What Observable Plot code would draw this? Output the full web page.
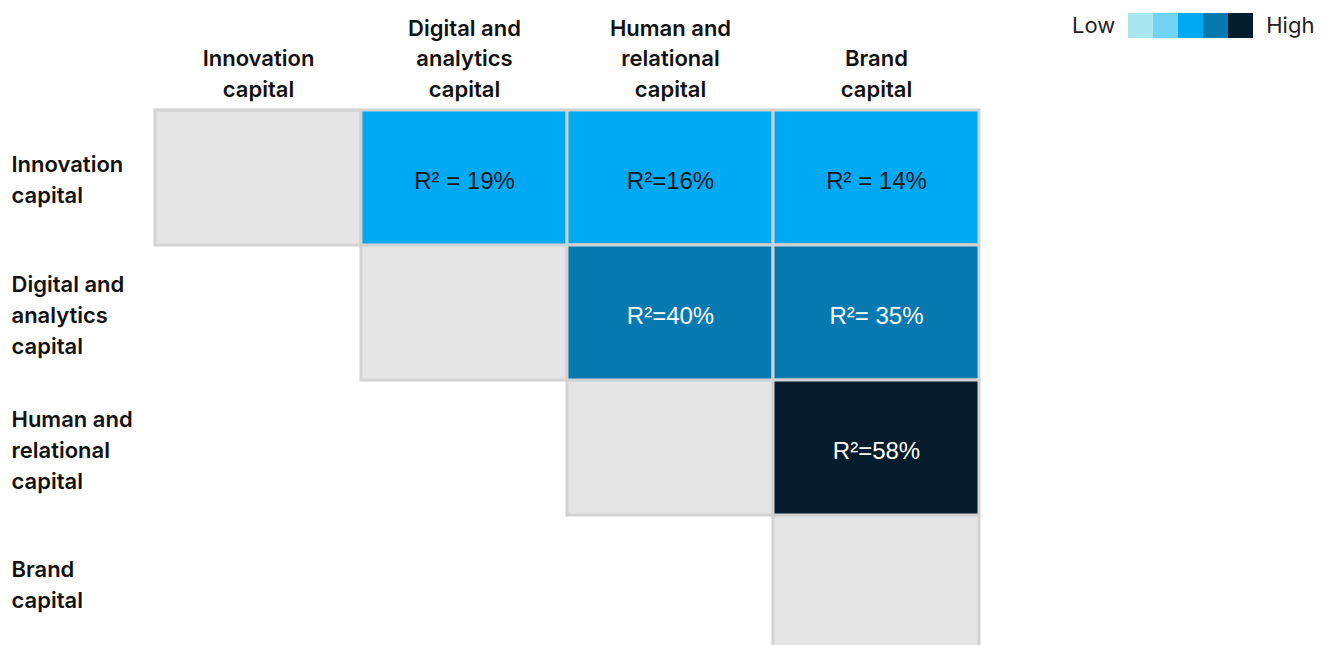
<!DOCTYPE html>
<html>
<head>
<meta charset="utf-8">
<script src="https://cdn.jsdelivr.net/npm/d3@7"></script>
<script src="https://cdn.jsdelivr.net/npm/@observablehq/plot@0.6"></script>
<style>
  html, body { margin: 0; padding: 0; background: #fff; overflow: hidden; }
  body { width: 1325px; height: 645px; position: relative; font-family: Inter, "Noto Sans", sans-serif; }
  #legend { position: absolute; left: 1072px; top: 12px; display: flex; align-items: center; font-size: 22px; color: #222; font-weight: 400; }
  #legend .sw { width: 25px; height: 25px; display: inline-block; }
  #chart { position: absolute; left: 0; top: 0; }
</style>
</head>
<body>
<div id="chart"></div>
<div id="legend"></div>
<script>
// Categories
const capitals = ["Innovation capital", "Digital and analytics capital", "Human and relational capital", "Brand capital"];
const colLabels = ["Innovation\ncapital", "Digital and\nanalytics\ncapital", "Human and\nrelational\ncapital", "Brand\ncapital"];
const rowLabels = ["Innovation\ncapital", "Digital and\nanalytics\ncapital", "Human and\nrelational\ncapital", "Brand\ncapital"];

// Pairwise R² (upper triangle)
const pairRows = ["Innovation capital", "Innovation capital", "Innovation capital", "Digital and analytics capital", "Digital and analytics capital", "Human and relational capital"];
const pairCols = ["Digital and analytics capital", "Human and relational capital", "Brand capital", "Human and relational capital", "Brand capital", "Brand capital"];
const r2Values = [19, 16, 14, 40, 35, 58];
const r2Labels = ["R² = 19%", "R²=16%", "R² = 14%", "R²=40%", "R²= 35%", "R²=58%"];

// Legend
const legendColors = ["#aae6f0", "#71d2f1", "#00a9f4", "#0679b1", "#051c2c"];
const legendThresholds = [5, 10, 25, 50];

const pairs = r2Values.map((v, i) => ({row: pairRows[i], col: pairCols[i], value: v, label: r2Labels[i]}));
const diag = capitals.map(c => ({row: c, col: c}));
const colHead = capitals.map((c, i) => ({col: c, label: colLabels[i]}));
const rowHead = capitals.map((c, i) => ({row: c, label: rowLabels[i]}));

const color = d3.scaleThreshold().domain(legendThresholds).range(legendColors);

const plot = Plot.plot({
  width: 1325,
  height: 650,
  marginLeft: 155,
  marginRight: 346,
  marginTop: 110,
  marginBottom: 0,
  style: {fontFamily: "Inter, 'Noto Sans', sans-serif", background: "transparent"},
  x: {type: "band", domain: capitals, padding: 0, axis: null},
  y: {type: "band", domain: capitals, padding: 0, axis: null},
  marks: [
    Plot.cell(diag, {x: "col", y: "row", fill: "#e5e5e5", stroke: "#d2d2d2", strokeWidth: 3}),
    Plot.cell(pairs, {x: "col", y: "row", fill: d => color(d.value), stroke: "#d2d2d2", strokeWidth: 3}),
    Plot.text(pairs, {x: "col", y: "row", text: "label", fill: d => d.value > 30 ? "#ffffff" : "#0b1620",
      fontFamily: "'Liberation Sans', Arial, sans-serif", fontSize: 24, fontWeight: 400, dy: 3}),
    Plot.text(colHead, {x: "col", text: "label", frameAnchor: "top", lineAnchor: "bottom", dy: -14,
      fontSize: 22, fontWeight: 600, lineHeight: 1.37, fill: "#111"}),
    Plot.text(rowHead, {y: "row", text: "label", frameAnchor: "left", textAnchor: "start", dx: -144, dy: 0,
      fontSize: 22, fontWeight: 600, lineHeight: 1.4, fill: "#111"})
  ]
});
document.getElementById("chart").appendChild(plot);

// Legend
const leg = document.getElementById("legend");
const low = document.createElement("span"); low.textContent = "Low"; low.style.marginRight = "13px"; leg.appendChild(low);
legendColors.forEach(c => { const s = document.createElement("span"); s.className = "sw"; s.style.background = c; leg.appendChild(s); });
const high = document.createElement("span"); high.textContent = "High"; high.style.marginLeft = "13px"; leg.appendChild(high);
</script>
</body>
</html>
